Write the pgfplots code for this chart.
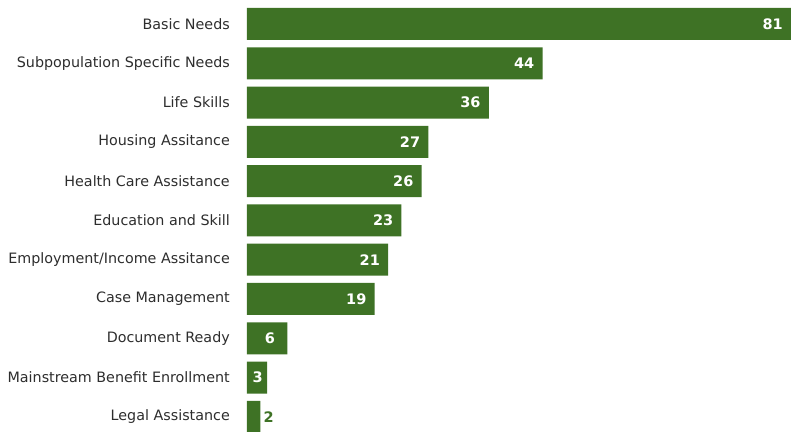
\documentclass[border=0pt]{standalone}
\usepackage{pgfplots}
\pgfplotsset{compat=1.18}
\usepackage{fontspec}
\setmainfont{DejaVu Sans}
\definecolor{barg}{RGB}{62,114,37}
\definecolor{lbl}{RGB}{45,45,45}
\begin{document}
\begin{tikzpicture}
\begin{axis}[
  scale only axis,
  width=544pt, height=431pt,
  xmin=0, xmax=81,
  ymin=-0.36, ymax=10.61,
  axis line style={draw=none},
  xtick=\empty,
  ytick={0,...,10},
  yticklabels={Legal Assistance, Mainstream Benefit Enrollment, Document Ready, Case Management, Employment/Income Assitance, Education and Skill, Health Care Assistance, Housing Assitance, Life Skills, Subpopulation Specific Needs, Basic Needs},
  major tick length=0pt,
  ytick style={draw=none},
  yticklabel style={font=\fontsize{14.3}{16}\selectfont, text=lbl, inner sep=0pt, xshift=-17pt},
  clip=false,
]
\addplot[xbar, bar width=32pt, bar shift=0pt, fill=barg, draw=none] coordinates {
(81,10) (44,9) (36,8) (27,7) (26,6) (23,5) (21,4) (19,3) (6,2) (3,1) (2,0)};
\addplot[draw=none, nodes near coords, point meta=explicit symbolic,
  nodes near coords style={anchor=east, inner sep=0pt, xshift=-8pt, text=white, font=\fontsize{14.5}{16}\selectfont\bfseries}]
  coordinates {(81,10)[81] (44,9)[44] (36,8)[36] (27,7)[27] (26,6)[26] (23,5)[23] (21,4)[21] (19,3)[19]};
\addplot[draw=none, nodes near coords, point meta=explicit symbolic,
  nodes near coords style={anchor=center, inner sep=0pt, text=white, font=\fontsize{14.5}{16}\selectfont\bfseries}]
  coordinates {(3.4,2)[6] (1.6,1)[3]};
\addplot[draw=none, nodes near coords, point meta=explicit symbolic,
  nodes near coords style={anchor=west, inner sep=0pt, xshift=3pt, text=barg, font=\fontsize{14.5}{16}\selectfont\bfseries}]
  coordinates {(2,0)[2]};
\end{axis}
\pgfresetboundingbox
\path (-247pt,0pt) rectangle (544pt,431pt);
\end{tikzpicture}
\end{document}
